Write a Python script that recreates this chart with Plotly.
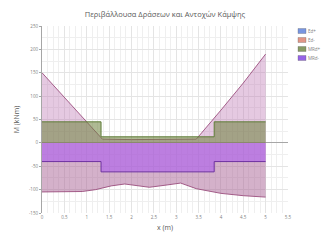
import plotly.graph_objects as go

# ---- data ----
title_text = "Περιβάλλουσα Δράσεων και Αντοχών Κάμψης"
series_names = ["Ed+", "Ed-", "MRd+", "MRd-"]

x_ed_pos = [0, 0.5, 1.0, 1.35, 2.0, 2.5, 3.0, 3.45, 4.0, 4.5, 5.0]
m_ed_pos = [150, 97, 44, 8, 7, 7, 7, 8, 70, 128, 190]

x_ed_neg = [0, 0.5, 0.9, 1.2, 1.55, 1.85, 2.1, 2.4, 2.8, 3.1, 3.45, 4.0, 4.5, 5.0]
m_ed_neg = [-105, -105, -104, -100, -92, -88, -91, -95, -90, -86, -98, -108, -113, -116]

x_rd = [0, 1.32, 3.85, 5.0]
m_rd_pos = [45, 13, 45, 45]
m_rd_neg = [-40, -62, -40, -40]

x_ticks = [0, 0.5, 1, 1.5, 2, 2.5, 3, 3.5, 4, 4.5, 5, 5.5]
y_ticks = [-150, -100, -50, 0, 50, 100, 150, 200, 250]

legend_colors = ["rgb(120,150,225)", "rgb(225,150,135)", "rgb(135,155,100)", "rgb(150,100,230)"]

# ---- figure ----
fig = go.Figure()
fig.add_trace(go.Scatter(x=x_ed_pos, y=m_ed_pos, mode="lines", fill="tozeroy",
                         fillcolor="rgba(190,120,180,0.40)",
                         line=dict(color="rgba(150,70,120,0.85)", width=1), showlegend=False))
fig.add_trace(go.Scatter(x=x_ed_neg, y=m_ed_neg, mode="lines", fill="tozeroy",
                         fillcolor="rgba(170,100,150,0.50)",
                         line=dict(color="rgba(150,70,120,0.85)", width=1), showlegend=False))
fig.add_trace(go.Scatter(x=x_rd, y=m_rd_pos, mode="lines", line_shape="hv", fill="tozeroy",
                         fillcolor="rgba(110,130,60,0.55)",
                         line=dict(color="rgb(95,125,55)", width=1), showlegend=False))
fig.add_trace(go.Scatter(x=x_rd, y=m_rd_neg, mode="lines", line_shape="hv", fill="tozeroy",
                         fillcolor="rgba(170,90,240,0.58)",
                         line=dict(color="rgb(110,50,160)", width=1), showlegend=False))

L, R, T, B = 42, 43, 26, 32
W, H = 331, 245
pw, ph = W - L - R, H - T - B

def px(xp):
    return (xp - L) / pw

def py(yp):
    return (H - B - yp) / ph

# custom compact legend
for i, (name, col) in enumerate(zip(series_names, legend_colors)):
    yc = 31 + 9 * i
    fig.add_shape(type="rect", xref="paper", yref="paper",
                  x0=px(298), x1=px(306), y0=py(yc + 2.5), y1=py(yc - 2.5),
                  fillcolor=col, line=dict(color="rgba(90,90,90,0.6)", width=0.5))
    fig.add_annotation(xref="paper", yref="paper", x=px(307), y=py(yc), text=name,
                       showarrow=False, xanchor="left", yanchor="middle",
                       borderpad=0, font=dict(size=4.5, color="#7f7f7f"))

fig.update_layout(
    width=W, height=H,
    margin=dict(l=L, r=R, t=T, b=B),
    paper_bgcolor="white", plot_bgcolor="white",
    font=dict(family="Open Sans, Liberation Sans, sans-serif", color="#7f7f7f"),
    title=dict(text=title_text, x=0.5, xref="paper", y=1 - 14 / H, yanchor="middle",
               font=dict(size=7.5, color="#595959")),
    showlegend=False,
    xaxis=dict(range=[0, 5.5], tickvals=x_ticks, ticktext=[str(v) for v in x_ticks],
               showgrid=True, gridcolor="#e4e4e4", gridwidth=1, zeroline=False,
               minor=dict(dtick=0.125, showgrid=True, gridcolor="#efefef"),
               tickfont=dict(size=4.5, color="#7f7f7f"), ticks="",
               title=dict(text="x (m)", font=dict(size=7, color="#595959"), standoff=6)),
    yaxis=dict(range=[-150, 250], tickvals=y_ticks, ticktext=[str(v) for v in y_ticks],
               showgrid=True, gridcolor="#e4e4e4", gridwidth=1,
               zeroline=True, zerolinecolor="#a6a6a6", zerolinewidth=1,
               minor=dict(dtick=25, showgrid=True, gridcolor="#efefef"),
               showline=True, linecolor="#a6a6a6", linewidth=1,
               ticks="outside", ticklen=2, tickcolor="#a6a6a6",
               tickfont=dict(size=4.5, color="#7f7f7f"),
               title=dict(text="M (kNm)", font=dict(size=7, color="#595959"), standoff=8)),
)

fig.write_html("out.html", config={"displayModeBar": False},
               post_script="document.body.style.margin='0';document.body.style.overflow='hidden';")
